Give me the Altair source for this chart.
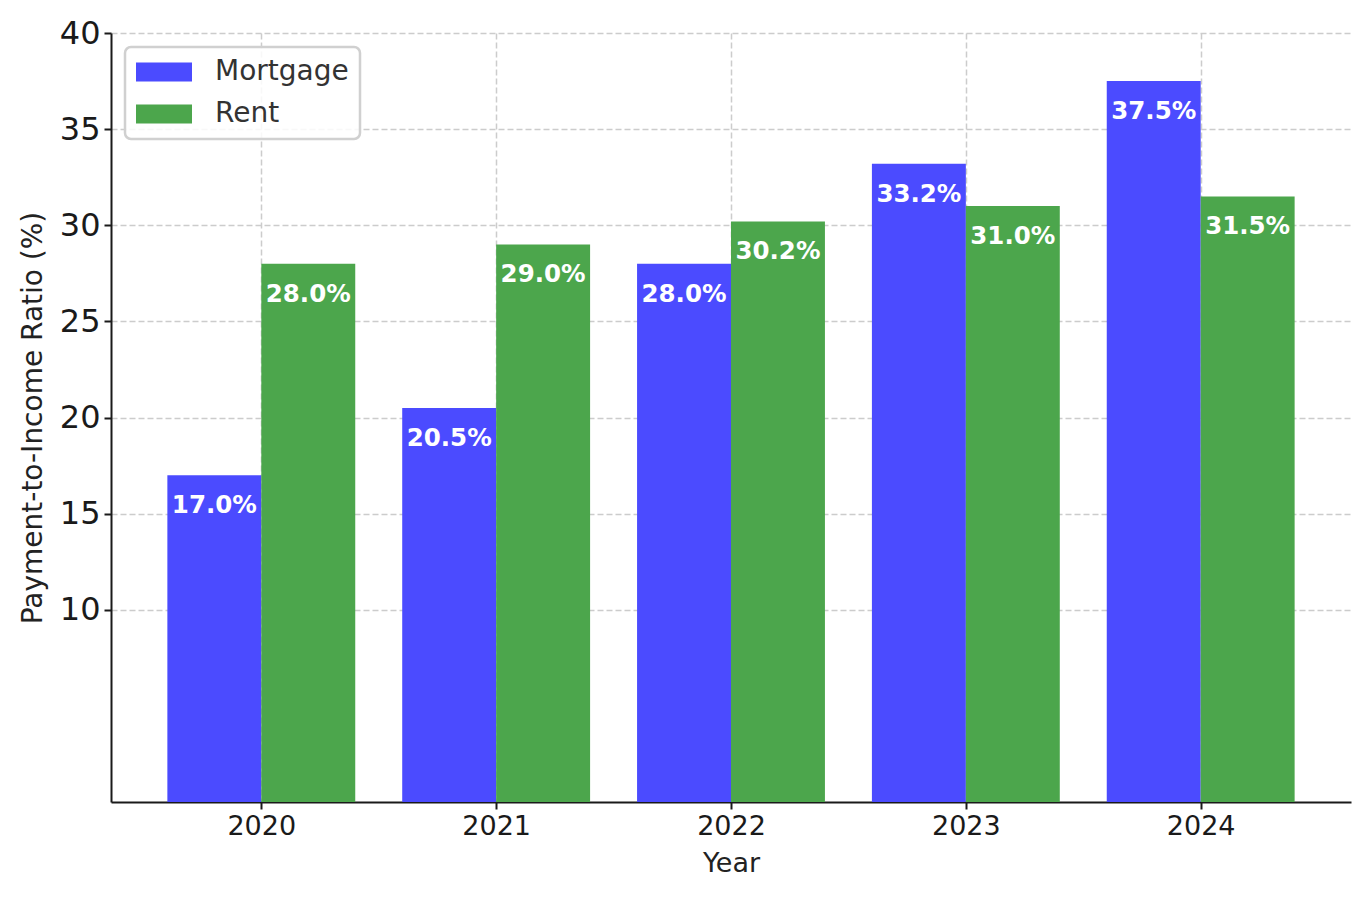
import altair as alt
import pandas as pd

years = [2020, 2021, 2022, 2023, 2024]
mortgage = [17.0, 20.5, 28.0, 33.2, 37.5]
rent = [28.0, 29.0, 30.2, 31.0, 31.5]
series = ["Mortgage", "Rent"]
colors = ["#4b4bff", "#4ca64c"]
y_ticks = [10, 15, 20, 25, 30, 35, 40]

rows = []
for y, m, r in zip(years, mortgage, rent):
    rows.append({"year": y, "series": "Mortgage", "value": m, "side": -1})
    rows.append({"year": y, "series": "Rent", "value": r, "side": 1})
df = pd.DataFrame(rows)

FONT = "DejaVu Sans"

base = alt.Chart(df).transform_calculate(
    x0="datum.side < 0 ? datum.year - 0.4 : datum.year",
    x1="datum.side < 0 ? datum.year : datum.year + 0.4",
    xc="datum.year + datum.side * 0.2",
    label="format(datum.value, '.1f') + '%'",
)

xscale = alt.Scale(domain=[2019.36, 2024.64], nice=False, zero=False)
yscale = alt.Scale(domain=[0, 40], nice=False)

bars = base.mark_bar(strokeWidth=0).encode(
    x=alt.X("x0:Q", scale=xscale,
            axis=alt.Axis(values=years, format="d", title="Year")),
    x2="x1:Q",
    y=alt.Y("value:Q", scale=yscale,
            axis=alt.Axis(values=y_ticks, title="Payment-to-Income Ratio (%)")),
    y2=alt.datum(0),
    color=alt.Color("series:N",
                    scale=alt.Scale(domain=series, range=colors),
                    legend=alt.Legend(
                        title=None, orient="none", legendX=14, legendY=14,
                        symbolType="M-1,-0.68 L3,-0.68 L3,0.68 L-1,0.68 Z",
                        symbolSize=784, symbolStrokeWidth=0, symbolOpacity=1,
                        labelOffset=51, labelFontSize=28, labelFont=FONT,
                        labelColor="#333333", rowPadding=14, padding=11,
                        strokeColor="#d0d0d0",
                        fillColor="rgba(255,255,255,0.85)",
                        cornerRadius=6, labelLimit=300,
                    )),
)

text = base.mark_text(color="white", fontWeight="bold", fontSize=24.5, font=FONT,
                      baseline="middle", align="center", dy=31).encode(
    x=alt.X("xc:Q", scale=xscale),
    y=alt.Y("value:Q", scale=yscale),
    text="label:N",
)

chart = alt.layer(bars, text).properties(
    width=1240, height=769,
    autosize=alt.AutoSizeParams(type="none"),
    padding={"left": 103, "top": 25, "right": 10, "bottom": 80},
).configure_view(stroke=None).configure_legend(
    strokeWidth=2.5,
).configure_axis(
    labelFont=FONT, titleFont=FONT, labelColor="#1a1a1a", titleColor="#222222",
    titleFontWeight="normal", domainColor="#1a1a1a", domainWidth=2,
    tickColor="#1a1a1a", tickWidth=2, tickSize=7,
    grid=True, gridColor="#cccccc", gridDash=[6, 3], gridWidth=1.5,
    zindex=1,
).configure_axisY(
    labelFontSize=32, titleFontSize=28, labelPadding=4, titlePadding=12,
).configure_axisX(
    labelFontSize=27, titleFontSize=27, labelPadding=4, titlePadding=11,
)

chart.save("out.html", embed_options={"renderer": "svg", "actions": False})
